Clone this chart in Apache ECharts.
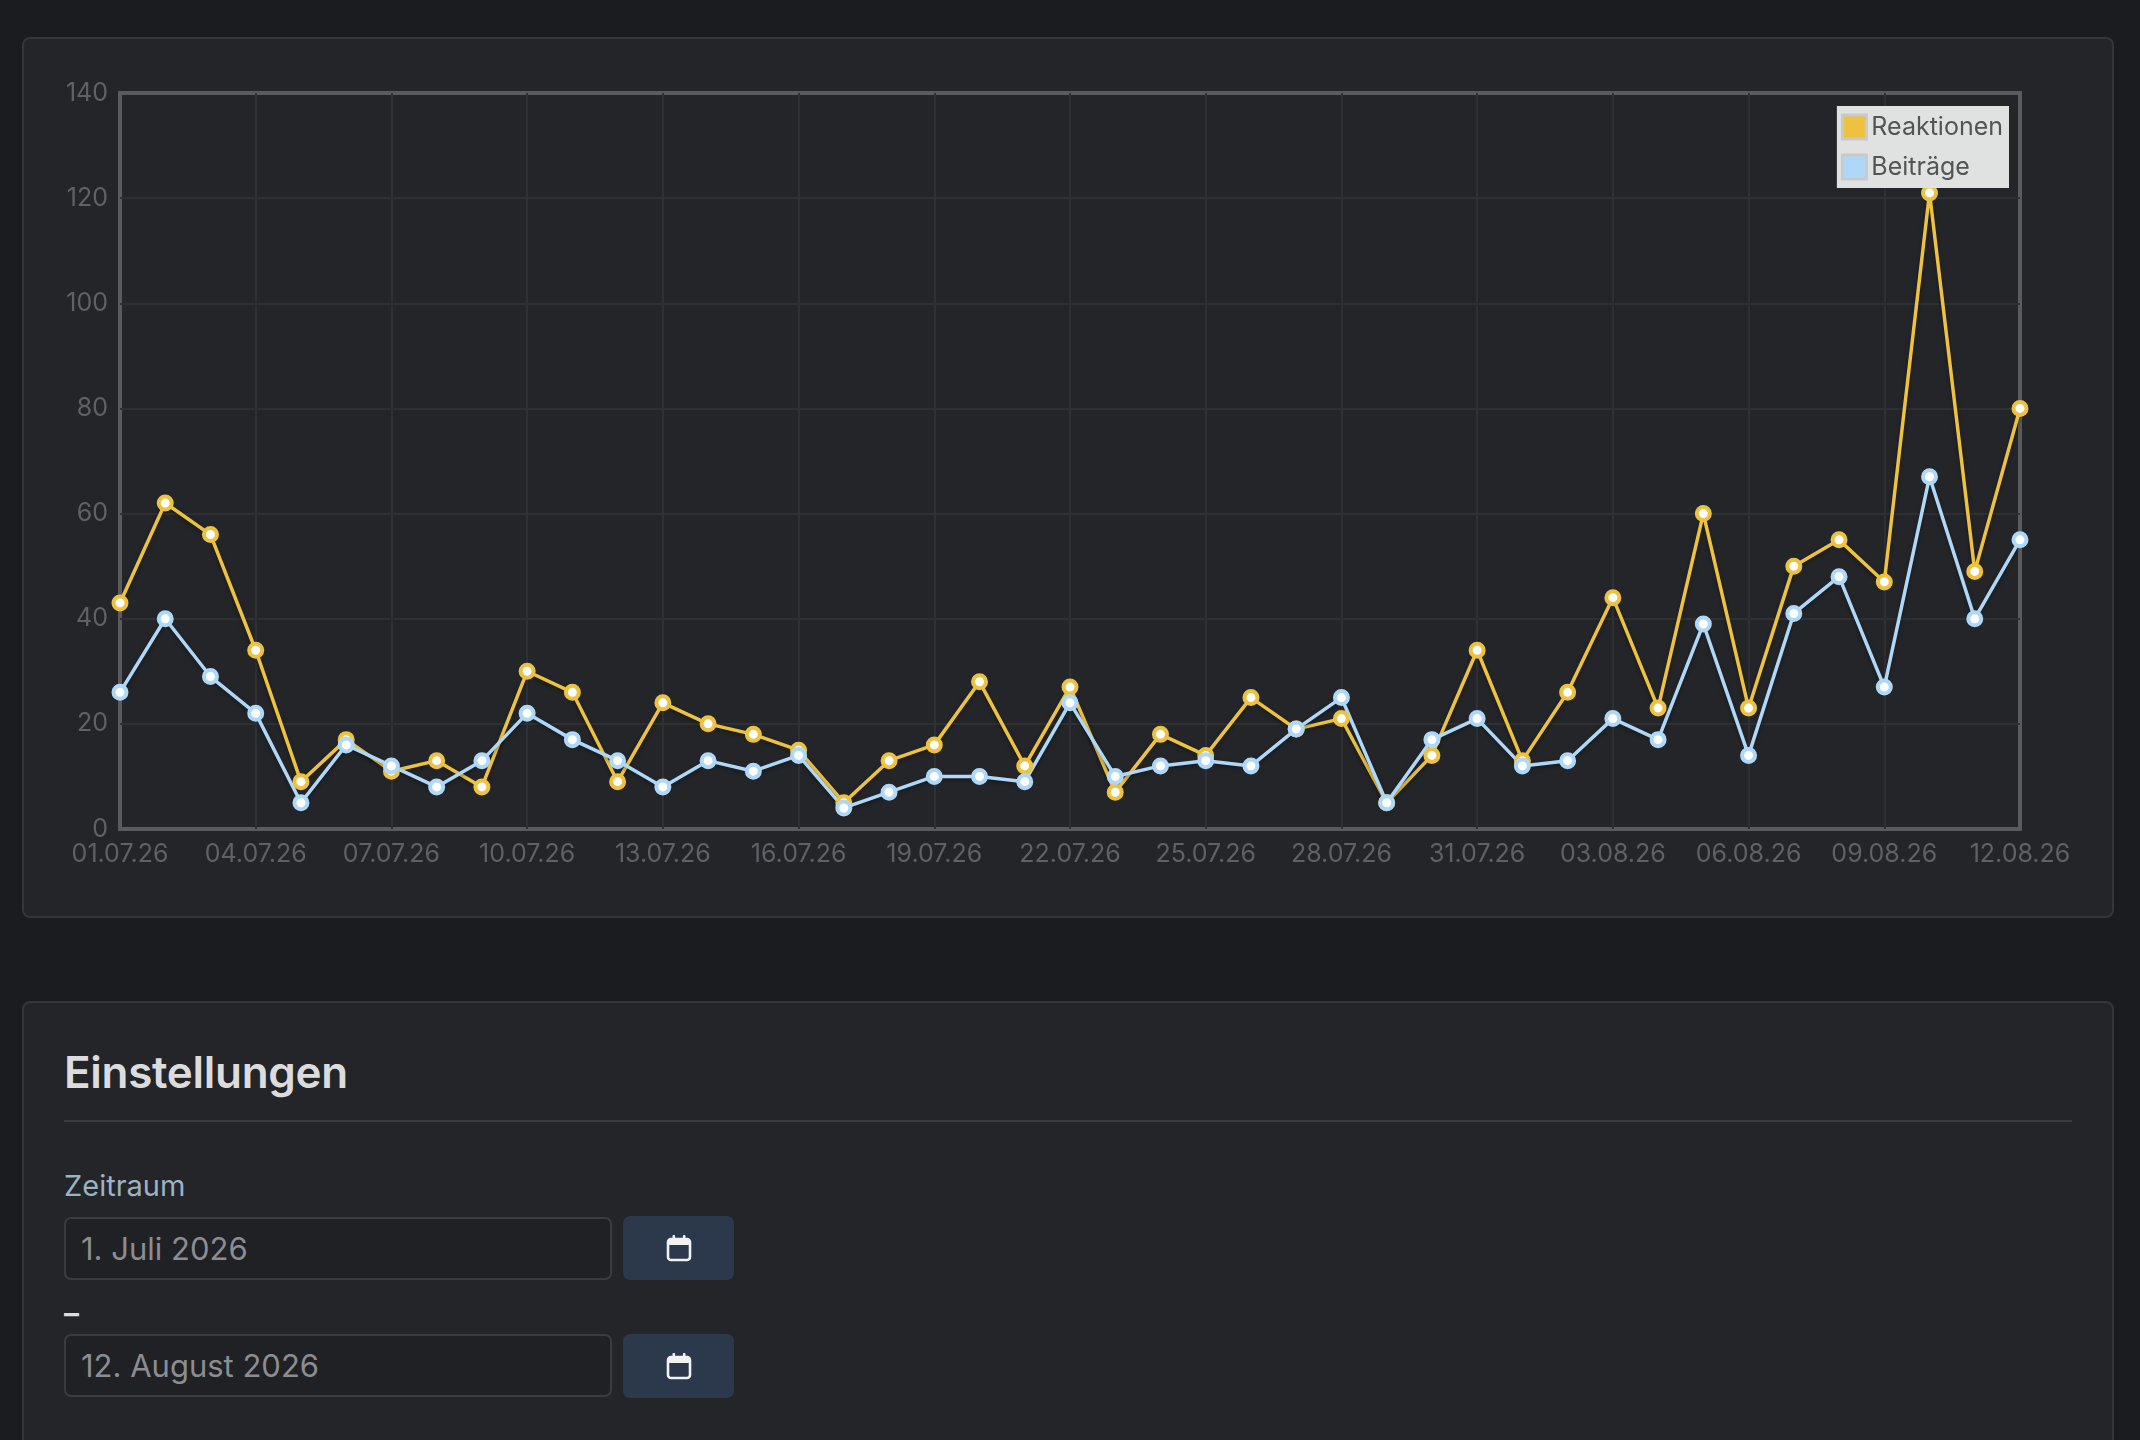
<!DOCTYPE html>
<html lang="de">
<head>
<meta charset="utf-8">
<title>Statistik</title>
<script src="https://cdn.jsdelivr.net/npm/echarts@6/dist/echarts.min.js"></script>
<style>
    html, body {
        margin: 0;
        padding: 0;
        width: 2140px;
        height: 1440px;
        overflow: hidden;
        background: #1b1c20;
        font-family: Inter, "Noto Sans", sans-serif;
    }
    .card {
        position: absolute;
        left: 22px;
        width: 2092px;
        box-sizing: border-box;
        background: #232529;
        border: 2px solid #34363a;
        border-radius: 8px;
    }
    #chartCard { top: 37px; height: 881px; }
    #main { position: absolute; left: 22px; top: 37px; width: 2092px; height: 881px; }
    #settings { top: 1001px; height: 520px; }
    .abs { position: absolute; margin: 0; }
    h2.abs {
        left: 40px; top: 47px;
        font-size: 44px; line-height: 44px; font-weight: 600;
        color: #dcdcdd; letter-spacing: -0.3px;
    }
    .rule { left: 40px; top: 117px; width: 2008px; height: 2px; background: #393b40; }
    .label {
        left: 40px; top: 168px;
        font-size: 29px; line-height: 29px; font-weight: 400;
        color: #9db2c2;
    }
    .input {
        left: 40px; width: 548px; height: 63px;
        box-sizing: border-box;
        border: 2px solid #393b3f; border-radius: 7px;
        background: #202125;
        color: #8b8d91;
        font-size: 31px; line-height: 59px;
        padding-left: 15px;
    }
    .btn {
        left: 599px; width: 111px; height: 64px;
        background: #2c384b; border-radius: 7px;
        display: flex; align-items: center; justify-content: center;
    }
    .dash {
        left: 40px; top: 295px;
        font-size: 30px; line-height: 30px; font-weight: 600;
        color: #dcdcdd;
    }
</style>
</head>
<body>
<div class="card" id="chartCard"></div>
<div id="main"></div>

<div class="card" id="settings">
    <h2 class="abs">Einstellungen</h2>
    <div class="abs rule"></div>
    <div class="abs label">Zeitraum</div>

    <div class="abs input" style="top:214px;">1. Juli 2026</div>
    <div class="abs btn" style="top:213px;">
        <svg width="26" height="28" viewBox="0 0 26 28">
            <rect x="2" y="5" width="22" height="21" rx="3" fill="none" stroke="#f2f2f2" stroke-width="2.6"/>
            <rect x="2" y="5" width="22" height="6" rx="2" fill="#f2f2f2"/>
            <rect x="6.5" y="1" width="2.6" height="6" rx="1" fill="#f2f2f2"/>
            <rect x="16.9" y="1" width="2.6" height="6" rx="1" fill="#f2f2f2"/>
        </svg>
    </div>

    <div class="abs dash">–</div>

    <div class="abs input" style="top:331px;">12. August 2026</div>
    <div class="abs btn" style="top:331px;">
        <svg width="26" height="28" viewBox="0 0 26 28">
            <rect x="2" y="5" width="22" height="21" rx="3" fill="none" stroke="#f2f2f2" stroke-width="2.6"/>
            <rect x="2" y="5" width="22" height="6" rx="2" fill="#f2f2f2"/>
            <rect x="6.5" y="1" width="2.6" height="6" rx="1" fill="#f2f2f2"/>
            <rect x="16.9" y="1" width="2.6" height="6" rx="1" fill="#f2f2f2"/>
        </svg>
    </div>
</div>

<script>
// Tage 01.07.26 - 12.08.26
var categories = [
    '01.07.26', '02.07.26', '03.07.26', '04.07.26', '05.07.26', '06.07.26', '07.07.26',
    '08.07.26', '09.07.26', '10.07.26', '11.07.26', '12.07.26', '13.07.26', '14.07.26',
    '15.07.26', '16.07.26', '17.07.26', '18.07.26', '19.07.26', '20.07.26', '21.07.26',
    '22.07.26', '23.07.26', '24.07.26', '25.07.26', '26.07.26', '27.07.26', '28.07.26',
    '29.07.26', '30.07.26', '31.07.26', '01.08.26', '02.08.26', '03.08.26', '04.08.26',
    '05.08.26', '06.08.26', '07.08.26', '08.08.26', '09.08.26', '10.08.26', '11.08.26',
    '12.08.26'
];

var reaktionen = [
    43, 62, 56, 34, 9, 17, 11, 13, 8, 30, 26, 9, 24, 20, 18, 15, 5, 13, 16, 28, 12,
    27, 7, 18, 14, 25, 19, 21, 5, 14, 34, 13, 26, 44, 23, 60, 23, 50, 55, 47, 121, 49, 80
];

var beitraege = [
    26, 40, 29, 22, 5, 16, 12, 8, 13, 22, 17, 13, 8, 13, 11, 14, 4, 7, 10, 10, 9,
    24, 10, 12, 13, 12, 19, 25, 5, 17, 21, 12, 13, 21, 17, 39, 14, 41, 48, 27, 67, 40, 55
];

var y_min = 0;
var y_max = 140;
var y_step = 20;

var col_reak = '#edc240';
var col_beit = '#afd8f8';
var txt_col = '#5f6165';
var grid_col = '#2e3034';

function makeSeries(name, data, color) {
    return {
        name: name,
        type: 'line',
        data: data,
        symbol: 'circle',
        symbolSize: 13,
        showSymbol: true,
        itemStyle: { color: '#ffffff', borderColor: color, borderWidth: 4 },
        lineStyle: {
            color: color,
            width: 3.5,
            shadowColor: 'rgba(0,0,0,0.35)',
            shadowBlur: 4,
            shadowOffsetY: 2
        },
        emphasis: { disabled: true }
    };
}

var myChart = echarts.init(document.getElementById('main'));
var option = {
    animation: false,
    textStyle: { fontFamily: 'Inter, "Noto Sans", sans-serif' },
    grid: {
        left: 98,
        top: 56,
        right: 94,
        bottom: 89,
        show: true,
        borderColor: '#5a5b5e',
        borderWidth: 4,
        backgroundColor: 'transparent'
    },
    legend: {
        orient: 'vertical',
        right: 105,
        top: 69,
        icon: 'rect',
        itemWidth: 24,
        itemHeight: 24,
        itemGap: 12,
        itemTextGap: 7,
        padding: [7, 6, 7, 4],
        backgroundColor: '#e0e1e1',
        textStyle: { color: '#545454', fontSize: 25, lineHeight: 28 },
        data: [
            { name: 'Reaktionen', itemStyle: { color: col_reak, borderColor: '#c9c9c9', borderWidth: 3 } },
            { name: 'Beiträge', itemStyle: { color: col_beit, borderColor: '#c9c9c9', borderWidth: 3 } }
        ]
    },
    xAxis: {
        type: 'category',
        data: categories,
        boundaryGap: false,
        axisLine: { show: false },
        axisTick: { show: false },
        axisLabel: { interval: 2, color: txt_col, fontSize: 25, margin: 13 },
        splitLine: {
            show: true, interval: 2, showMinLine: false, showMaxLine: false,
            lineStyle: { color: grid_col, width: 2 }
        }
    },
    yAxis: {
        type: 'value',
        min: y_min,
        max: y_max,
        interval: y_step,
        axisLine: { show: false },
        axisTick: { show: false },
        axisLabel: { color: txt_col, fontSize: 25, margin: 12 },
        splitLine: {
            show: true, showMinLine: false, showMaxLine: false,
            lineStyle: { color: grid_col, width: 2 }
        }
    },
    series: [
        makeSeries('Reaktionen', reaktionen, col_reak),
        makeSeries('Beiträge', beitraege, col_beit)
    ]
};
myChart.setOption(option);
</script>
</body>
</html>
